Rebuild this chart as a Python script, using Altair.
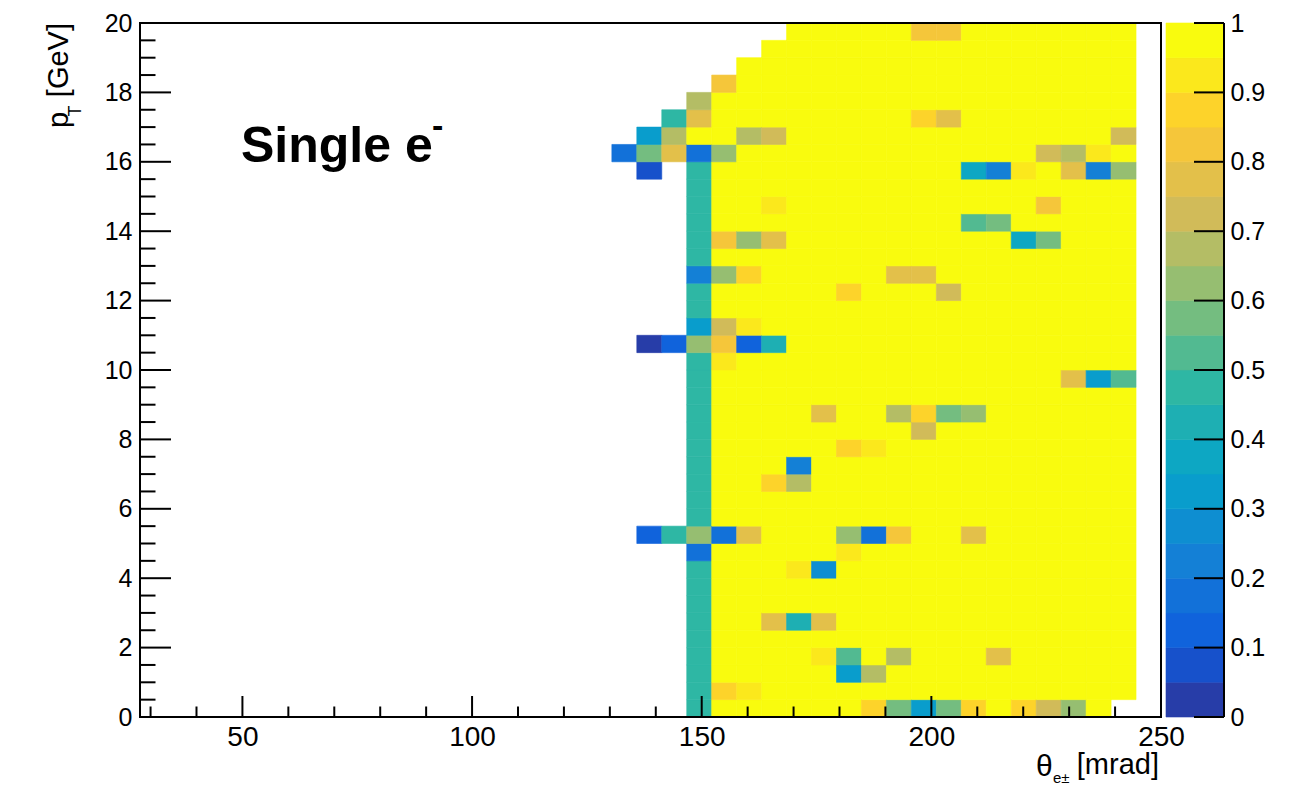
import altair as alt
import numpy as np
import pandas as pd

# ---------------------------------------------------------------------------
# Histogram binning: 46 theta bins over [0, 250] mrad, 0.5 GeV pT bins
# ---------------------------------------------------------------------------
N_THETA_BINS = 46
THETA_MAX = 250.0
PT_BIN = 0.5

# Populated theta-bin range of every pT row (row 0 = 0-0.5 GeV ... row 39 = 19.5-20 GeV)
ROW_FIRST = [27] * 36 + [28, 29, 30, 31]
ROW_LAST = [43] + [44] * 39

# Efficiency in the lowest populated theta bin (bin 27) for pT rows 0..35
EDGE_BIN = [
    0.48, 0.48, 0.48, 0.48, 0.48, 0.48, 0.48, 0.48, 0.48, 0.16,
    0.63, 0.48, 0.48, 0.48, 0.48, 0.48, 0.48, 0.48, 0.48, 0.48,
    0.48, 0.63, 0.33, 0.48, 0.48, 0.22, 0.48, 0.48, 0.48, 0.48,
    0.48, 0.48, 0.16, 1.00, 0.78, 0.68,
]

# Bins below full efficiency: (theta bin, pT row, efficiency)
OFF_BINS = [
    (36, 39, 0.83), (37, 39, 0.83),
    (28, 36, 0.83),
    (26, 34, 0.48), (36, 34, 0.88), (37, 34, 0.77),
    (25, 33, 0.33), (26, 33, 0.68), (29, 33, 0.68), (30, 33, 0.73), (44, 33, 0.73),
    (24, 32, 0.18), (25, 32, 0.58), (26, 32, 0.78), (28, 32, 0.63),
    (41, 32, 0.73), (42, 32, 0.68), (43, 32, 0.93),
    (25, 31, 0.08), (38, 31, 0.38), (39, 31, 0.23), (40, 31, 0.93),
    (42, 31, 0.78), (43, 31, 0.23), (44, 31, 0.63),
    (30, 29, 0.92), (41, 29, 0.83),
    (38, 28, 0.53), (39, 28, 0.58),
    (28, 27, 0.83), (29, 27, 0.63), (30, 27, 0.77), (40, 27, 0.38), (41, 27, 0.58),
    (28, 25, 0.63), (29, 25, 0.88), (35, 25, 0.78), (36, 25, 0.78),
    (33, 24, 0.88), (37, 24, 0.73),
    (28, 22, 0.73), (29, 22, 0.92),
    (25, 21, 0.03), (26, 21, 0.13), (28, 21, 0.83), (29, 21, 0.13), (30, 21, 0.43),
    (28, 20, 0.93),
    (42, 19, 0.77), (43, 19, 0.33), (44, 19, 0.53),
    (32, 17, 0.77), (35, 17, 0.68), (36, 17, 0.88), (37, 17, 0.58), (38, 17, 0.63),
    (36, 16, 0.73),
    (33, 15, 0.88), (34, 15, 0.92),
    (31, 14, 0.20),
    (30, 13, 0.88), (31, 13, 0.68),
    (25, 10, 0.13), (26, 10, 0.48), (28, 10, 0.16), (29, 10, 0.77),
    (33, 10, 0.63), (34, 10, 0.16), (35, 10, 0.83), (38, 10, 0.75),
    (33, 9, 0.93),
    (31, 8, 0.93), (32, 8, 0.28),
    (30, 5, 0.77), (31, 5, 0.43), (32, 5, 0.77),
    (32, 3, 0.93), (33, 3, 0.53), (35, 3, 0.68), (39, 3, 0.77),
    (33, 2, 0.33), (34, 2, 0.68),
    (28, 1, 0.88), (29, 1, 0.93),
    (34, 0, 0.88), (35, 0, 0.58), (36, 0, 0.33), (37, 0, 0.58), (38, 0, 0.88),
    (40, 0, 0.88), (41, 0, 0.73), (42, 0, 0.63),
]

# Axis tick positions
X_MAJOR = [50, 100, 150, 200, 250]
X_MINOR = [30, 40, 60, 70, 80, 90, 110, 120, 130, 140, 160, 170, 180, 190,
           210, 220, 230, 240]
Y_MAJOR = [0, 2, 4, 6, 8, 10, 12, 14, 16, 18, 20]
Y_MINOR = [0.5, 1, 1.5, 2.5, 3, 3.5, 4.5, 5, 5.5, 6.5, 7, 7.5, 8.5, 9, 9.5,
           10.5, 11, 11.5, 12.5, 13, 13.5, 14.5, 15, 15.5, 16.5, 17, 17.5,
           18.5, 19, 19.5]
Z_TICKS = [0, 0.1, 0.2, 0.3, 0.4, 0.5, 0.6, 0.7, 0.8, 0.9, 1]

# ---------------------------------------------------------------------------
# ROOT "kBird" palette split into 20 contour levels
# ---------------------------------------------------------------------------
BIRD_STOPS = [0.0000, 0.1250, 0.2500, 0.3750, 0.5000, 0.6250, 0.7500, 0.8750, 1.0000]
BIRD_R = [0.2082, 0.0592, 0.0780, 0.0232, 0.1802, 0.5301, 0.8186, 0.9956, 0.9764]
BIRD_G = [0.1664, 0.3599, 0.5041, 0.6419, 0.7178, 0.7492, 0.7328, 0.7862, 0.9832]
BIRD_B = [0.5293, 0.8684, 0.8385, 0.7914, 0.6425, 0.4662, 0.3499, 0.1968, 0.0539]
N_CONTOURS = 20


def contour_colour(k):
    t = int((k + 0.99) * 255 / N_CONTOURS) / 254.0
    rgb = [np.interp(t, BIRD_STOPS, c) for c in (BIRD_R, BIRD_G, BIRD_B)]
    return "#" + "".join(f"{int(round(255 * v)):02x}" for v in rgb)


PALETTE = [contour_colour(k) for k in range(N_CONTOURS)]
LEVELS = [round(0.05 * k, 2) for k in range(1, N_CONTOURS)]
colour_scale = alt.Scale(type="threshold", domain=LEVELS, range=PALETTE)

# ---------------------------------------------------------------------------
# Cell table
# ---------------------------------------------------------------------------
cells = {}
for row, (first, last) in enumerate(zip(ROW_FIRST, ROW_LAST)):
    for col in range(first, last + 1):
        cells[(col, row)] = 1.0
for row, eff in enumerate(EDGE_BIN):
    cells[(27, row)] = eff
for col, row, eff in OFF_BINS:
    cells[(col, row)] = eff

theta_w = THETA_MAX / N_THETA_BINS
hist = pd.DataFrame(
    [
        {
            "theta_lo": col * theta_w,
            "theta_hi": (col + 1) * theta_w,
            "pt_lo": row * PT_BIN,
            "pt_hi": (row + 1) * PT_BIN,
            "eff": eff,
        }
        for (col, row), eff in sorted(cells.items())
    ]
)

# ---------------------------------------------------------------------------
# Main panel
# ---------------------------------------------------------------------------
W, H = 1021, 694
FONT = "Liberation Sans"
x_scale = alt.Scale(domain=[27.7, 250], nice=False, zero=False)
y_scale = alt.Scale(domain=[0, 20], nice=False, zero=False)

x_axis = alt.Axis(values=X_MAJOR, ticks=False, domain=False, grid=False,
                  labelFont=FONT, labelFontSize=28, labelColor="black",
                  labelPadding=6, labelFlush=False, labelOverlap=False,
                  title=None)
y_axis = alt.Axis(values=Y_MAJOR, ticks=False, domain=False, grid=False,
                  labelFont=FONT, labelFontSize=25, labelColor="black",
                  labelPadding=8, labelOverlap=False, title=None)

heat = alt.Chart(hist).mark_rect(strokeWidth=0.6).encode(
    x=alt.X("theta_lo:Q", scale=x_scale, axis=x_axis),
    x2="theta_hi:Q",
    y=alt.Y("pt_lo:Q", scale=y_scale, axis=y_axis),
    y2="pt_hi:Q",
    color=alt.Color("eff:Q", scale=colour_scale, legend=None),
    stroke=alt.Stroke("eff:Q", scale=colour_scale, legend=None),
)


def tick_layer(values, field, orient, length):
    data = pd.DataFrame({field: values})
    rule = alt.Chart(data).mark_rule(color="black", strokeWidth=2)
    if orient == "x":
        return rule.encode(x=alt.X(f"{field}:Q", scale=x_scale, axis=x_axis),
                           y=alt.value(H), y2=alt.value(H - length))
    return rule.encode(y=alt.Y(f"{field}:Q", scale=y_scale, axis=y_axis),
                       x=alt.value(0), x2=alt.value(length))


one = pd.DataFrame({"k": [0]})

frame = alt.Chart(one).mark_rect(filled=False, stroke="black", strokeWidth=2).encode(
    x=alt.value(0), x2=alt.value(W), y=alt.value(0), y2=alt.value(H)
)

# keeps the plot frame at a fixed offset from the page corner
anchor = alt.Chart(one).mark_rect(opacity=0).encode(
    x=alt.value(-140), x2=alt.value(-139), y=alt.value(-23), y2=alt.value(-22)
)


def label(text, x, y, size, align="left", angle=0, weight="normal"):
    return alt.Chart(one).mark_text(
        text=text, font=FONT, fontSize=size, fontWeight=weight, align=align,
        baseline="alphabetic", angle=angle, color="black",
    ).encode(x=alt.value(x), y=alt.value(y))


titles = [
    label("[GeV]", -72, 0, 29, align="right", angle=270),
    label("p", -72, 105, 29, align="left", angle=270),
    label("T", -59, 88, 18, align="center", angle=270),
    label("\u03b8", 896, 753, 30),
    label("e\u00b1", 913, 760, 15),
    label("[mrad]", 1019, 751, 29, align="right"),
    label("Single e", 101, 139, 50, weight="bold"),
    label("-", 292, 114, 34, weight="bold"),
]

main = alt.layer(
    anchor,
    heat,
    tick_layer(X_MAJOR, "tx", "x", 21),
    tick_layer(X_MINOR, "tx", "x", 10.5),
    tick_layer(Y_MAJOR, "ty", "y", 31),
    tick_layer(Y_MINOR, "ty", "y", 15.5),
    frame,
    *titles,
).properties(width=W, height=H)

# ---------------------------------------------------------------------------
# Colour bar
# ---------------------------------------------------------------------------
CBW = 58
bands = pd.DataFrame({
    "lo": [round(0.05 * k, 2) for k in range(N_CONTOURS)],
    "hi": [round(0.05 * (k + 1), 2) for k in range(N_CONTOURS)],
})
bands["mid"] = bands["lo"] + 0.025
z_scale = alt.Scale(domain=[0, 1], nice=False, zero=False)
z_axis = alt.Axis(orient="right", values=Z_TICKS, format=".1~f",
                  ticks=False, domain=False, grid=False,
                  labelFont=FONT, labelFontSize=25, labelColor="black",
                  labelPadding=6, labelOverlap=False, title=None)

bar = alt.Chart(bands).mark_rect(strokeWidth=0.6).encode(
    x=alt.value(0), x2=alt.value(CBW),
    y=alt.Y("lo:Q", scale=z_scale, axis=z_axis),
    y2="hi:Q",
    color=alt.Color("mid:Q", scale=colour_scale, legend=None),
    stroke=alt.Stroke("mid:Q", scale=colour_scale, legend=None),
)
bar_ticks = alt.Chart(pd.DataFrame({"z": Z_TICKS})).mark_rule(
    color="black", strokeWidth=2
).encode(y=alt.Y("z:Q", scale=z_scale, axis=z_axis),
         x=alt.value(CBW - 30), x2=alt.value(CBW))
bar_edge = alt.Chart(one).mark_rule(color="black", strokeWidth=2).encode(
    x=alt.value(CBW), y=alt.value(0), y2=alt.value(H)
)
colour_bar = alt.layer(bar, bar_ticks, bar_edge).properties(width=CBW, height=H)

chart = (
    alt.hconcat(main, colour_bar, spacing=5, bounds="flush")
    .properties(padding=0, background="white")
    .configure_view(stroke=None)
)

chart.save("out.html", embed_options={"renderer": "svg", "actions": False})
